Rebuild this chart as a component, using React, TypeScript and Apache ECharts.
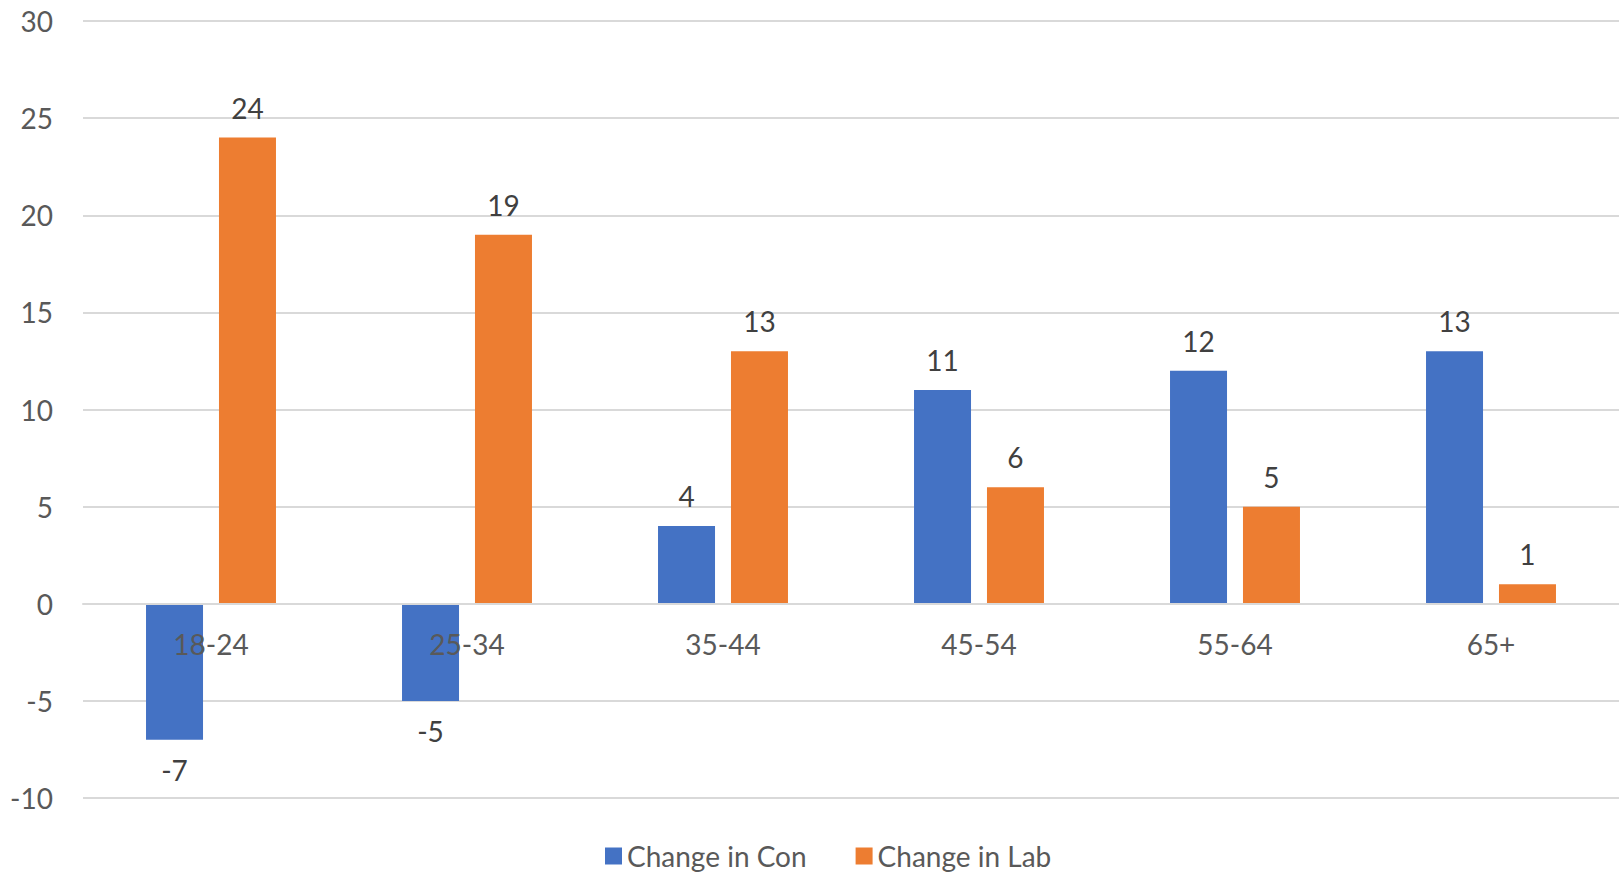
import React, { useEffect, useRef } from "react";
import * as echarts from "echarts";

const categories = ["18-24", "25-34", "35-44", "45-54", "55-64", "65+"];
const changeInCon = [-7, -5, 4, 11, 12, 13];
const changeInLab = [24, 19, 13, 6, 5, 1];
const FONT = "Lato, 'Open Sans', sans-serif";

export default function App() {
  const ref = useRef<HTMLDivElement>(null);
  useEffect(() => {
    if (!ref.current) return;
    const chart = echarts.init(ref.current, undefined, { renderer: "svg" });
    const label = (pos: string) => ({
      show: true,
      position: pos,
      distance: 16,
      color: "#404040",
      fontSize: 28,
      fontFamily: FONT,
    });
    chart.setOption({
      animation: false,
      backgroundColor: "#ffffff",
      grid: { left: 83, right: 0, top: 21, bottom: 77, containLabel: false },
      legend: {
        bottom: 0,
        left: 600,
        itemWidth: 17,
        itemHeight: 17,
        itemGap: 49,
        icon: "rect",
        textStyle: { color: "#595959", fontSize: 28, fontFamily: FONT },
        data: ["Change in Con", "Change in Lab"],
      },
      xAxis: {
        type: "category",
        data: categories,
        position: "bottom",
        offset: -194,
        z: 10,
        axisLine: { show: true, onZero: false, lineStyle: { color: "#d9d9d9", width: 2 } },
        axisTick: { show: false },
        axisLabel: { color: "#595959", fontSize: 28, fontFamily: FONT, margin: 26 },
      },
      yAxis: {
        type: "value",
        min: -10,
        max: 30,
        interval: 5,
        axisLine: { show: false },
        axisTick: { show: false },
        splitLine: { lineStyle: { color: "#d9d9d9", width: 2 } },
        axisLabel: { color: "#595959", fontSize: 28, fontFamily: FONT, margin: 30 },
      },
      series: [
        {
          name: "Change in Con",
          type: "bar",
          data: changeInCon.map((v) => ({
            value: v,
            label: label(v < 0 ? "bottom" : "top"),
          })),
          barWidth: 57,
          barGap: "28%",
          itemStyle: { color: "#4472C4" },
        },
        {
          name: "Change in Lab",
          type: "bar",
          data: changeInLab.map((v) => ({
            value: v,
            label: label(v < 0 ? "bottom" : "top"),
          })),
          barWidth: 57,
          barGap: "28%",
          itemStyle: { color: "#ED7D31" },
        },
      ],
    });
    return () => chart.dispose();
  }, []);
  return (
    <div
      ref={ref}
      style={{ position: "fixed", left: 0, top: 0, width: 1619, height: 875 }}
    />
  );
}
